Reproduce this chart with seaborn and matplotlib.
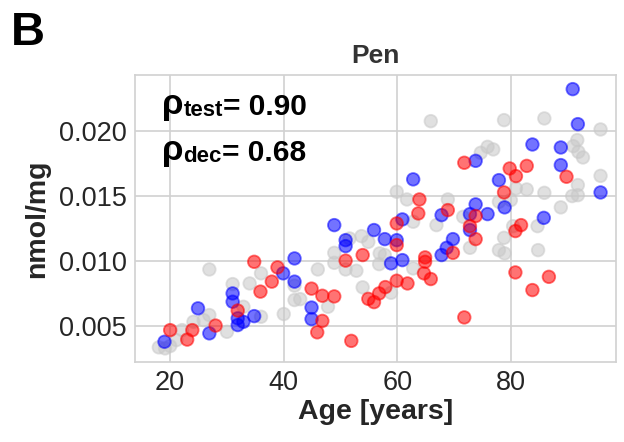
import matplotlib
matplotlib.use("Agg")
import matplotlib.pyplot as plt
import seaborn as sns
import pandas as pd

# ---- data ----
grey_age = [65.9, 78.8, 85.9, 95.8, 91.7, 91.0, 91.9, 92.7, 95.8, 91.8, 90.8, 91.8,
            74.7, 75.9, 76.9, 80.9, 82.8, 85.9, 77.9, 80.0, 88.8, 84.7, 78.8, 77.9,
            78.9, 84.8, 72.8, 71.6, 59.9, 61.7, 68.9, 62.8, 66.9, 51.6, 53.7, 54.9,
            48.9, 48.9, 50.9, 52.8, 46.0, 56.9, 57.8, 56.8, 62.8, 53.9, 58.9, 41.9,
            41.9, 42.9, 47.8, 40.0, 26.9, 36.0, 34.0, 31.0, 32.9, 36.0, 26.9, 25.9,
            24.1, 30.0, 22.1, 21.1, 18.0, 19.1, 20.0, 80.4]
grey_val = [0.02077, 0.02085, 0.02098, 0.02013, 0.01931, 0.01884, 0.01840, 0.01797,
            0.01655, 0.01584, 0.01499, 0.01506, 0.01833, 0.01879, 0.01859, 0.01558,
            0.01550, 0.01524, 0.01455, 0.01468, 0.01412, 0.01267, 0.01177, 0.01082,
            0.01057, 0.01082, 0.01100, 0.01339, 0.01532, 0.01473, 0.01473, 0.01301,
            0.01275, 0.01172, 0.01190, 0.01146, 0.01061, 0.00984, 0.00933, 0.00923,
            0.00933, 0.01057, 0.01044, 0.00974, 0.00941, 0.00795, 0.00753, 0.00808,
            0.00697, 0.00704, 0.00645, 0.00589, 0.00933, 0.00903, 0.00825, 0.00820,
            0.00645, 0.00568, 0.00581, 0.00542, 0.00529, 0.00452, 0.00465, 0.00388,
            0.00332, 0.00324, 0.00342, 0.01267]

blue_age = [90.9, 91.8, 83.8, 88.8, 88.8, 95.8, 73.8, 77.9, 78.9, 73.8, 75.9, 85.8,
            72.8, 72.8, 62.8, 60.9, 67.8, 48.9, 55.9, 57.8, 59.9, 50.9, 50.9, 58.9,
            60.9, 67.8, 68.7, 69.8, 41.9, 39.9, 41.9, 44.9, 44.9, 31.0, 31.0, 31.9,
            31.9, 32.9, 34.8, 24.9, 26.9, 19.0]
blue_val = [0.02324, 0.02054, 0.01897, 0.01874, 0.01738, 0.01527, 0.01771, 0.01622,
            0.01412, 0.01435, 0.01360, 0.01331, 0.01360, 0.01237, 0.01628, 0.01319,
            0.01352, 0.01275, 0.01237, 0.01167, 0.01159, 0.01159, 0.01113, 0.00980,
            0.01005, 0.01044, 0.01100, 0.01167, 0.01018, 0.00903, 0.00839, 0.00639,
            0.00550, 0.00748, 0.00684, 0.00556, 0.00504, 0.00529, 0.00573, 0.00633,
            0.00440, 0.00375]

red_age = [71.8, 79.8, 80.9, 82.8, 89.8, 78.8, 63.9, 63.7, 59.9, 68.9, 59.9, 53.9,
           50.9, 64.9, 64.9, 64.7, 65.9, 69.8, 73.8, 72.8, 73.8, 81.8, 80.8, 80.8,
           86.7, 83.8, 71.8, 59.9, 61.8, 57.9, 56.8, 54.9, 55.9, 44.9, 46.8, 48.9,
           46.8, 45.9, 51.9, 34.8, 38.9, 37.9, 35.9, 31.9, 28.0, 23.9, 23.0, 20.0]
red_val = [0.01756, 0.01712, 0.01653, 0.01732, 0.01648, 0.01527, 0.01473, 0.01365,
           0.01288, 0.01391, 0.01121, 0.01044, 0.01001, 0.01026, 0.00992, 0.00903,
           0.00859, 0.01061, 0.01345, 0.01267, 0.01167, 0.01275, 0.01229, 0.00910,
           0.00876, 0.00774, 0.00563, 0.00846, 0.00825, 0.00797, 0.00748, 0.00706,
           0.00681, 0.00785, 0.00730, 0.00725, 0.00536, 0.00448, 0.00382, 0.00992,
           0.00949, 0.00839, 0.00762, 0.00616, 0.00500, 0.00465, 0.00392, 0.00465]

x_ticks = [20, 40, 60, 80]
y_ticks = [0.005, 0.010, 0.015, 0.020]
y_tick_labels = ["0.005", "0.010", "0.015", "0.020"]
rho_test = "0.90"
rho_dec = "0.68"

# ---- build table ----
df = pd.concat([
    pd.DataFrame({"age": grey_age, "val": grey_val, "grp": "all"}),
    pd.DataFrame({"age": blue_age, "val": blue_val, "grp": "test"}),
    pd.DataFrame({"age": red_age, "val": red_val, "grp": "dec"}),
], ignore_index=True)

sns.set_style("whitegrid", {"axes.edgecolor": "0.82", "grid.color": "0.82"})
plt.rcParams["font.family"] = ["Liberation Sans", "DejaVu Sans"]

fig = plt.figure(figsize=(6.24, 4.42), dpi=100)
ax = fig.add_axes([0.2163, 0.181, 0.7707, 0.649])

palette = {"all": "#c8c8c8", "test": "#0000ff", "dec": "#ff0000"}
sns.scatterplot(data=df, x="age", y="val", hue="grp", palette=palette, ax=ax,
                s=82, alpha=0.55, edgecolor="face", linewidth=1.3, legend=False)

ax.set_xlim(13.8, 98.5)
ax.set_ylim(0.00219, 0.02432)
ax.set_xticks(x_ticks)
ax.set_yticks(y_ticks)
ax.set_yticklabels(y_tick_labels)
ax.tick_params(labelsize=19.5, colors="0.15", length=0, pad=6)
for sp in ax.spines.values():
    sp.set_color("0.82")
    sp.set_linewidth(1.2)
ax.grid(True, color="0.82", linewidth=1.2)

ax.set_xlabel("Age [years]", fontsize=20.5, fontweight="bold", color="0.15", labelpad=2)
ax.set_ylabel("nmol/mg", fontsize=20.5, fontweight="bold", color="0.15", labelpad=6)
ax.set_title("Pen", fontsize=19, fontweight="bold", color="0.2", pad=9)

fig.text(0.018, 0.975, "B", fontsize=34, fontweight="bold", va="top", ha="left",
         color="black")

# rho annotations
def rho_line(y, sub, value):
    t1 = ax.text(0.056, y, "ρ", transform=ax.transAxes, fontsize=25,
                 fontweight="bold", va="baseline", ha="left", color="black")
    t2 = ax.annotate(sub, xy=(1, 0), xycoords=t1, fontsize=16, fontweight="bold",
                     va="bottom", ha="left", color="black")
    ax.annotate("= " + value, xy=(1, 0), xycoords=t2, fontsize=21.5,
                fontweight="bold", va="bottom", ha="left", color="black")

rho_line(0.866, "test", rho_test)
rho_line(0.703, "dec", rho_dec)

fig.savefig("out.png", dpi=100)
